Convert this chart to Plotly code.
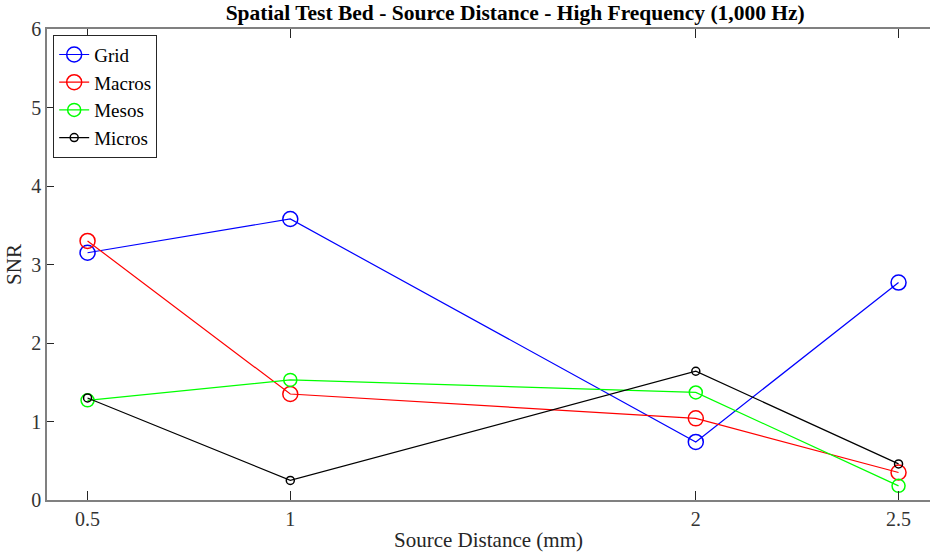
import plotly.graph_objects as go

x_vals = [0.5, 1, 2, 2.5]
grid = [3.15, 3.58, 0.74, 2.77]
macros = [3.30, 1.35, 1.04, 0.35]
mesos = [1.27, 1.53, 1.37, 0.18]
micros = [1.30, 0.25, 1.64, 0.46]

series = [
    ("Grid", grid, "#0000ff", 15),
    ("Macros", macros, "#ff0000", 15),
    ("Mesos", mesos, "#00ff00", 13),
    ("Micros", micros, "#000000", 8),
]

fig = go.Figure()
for name, vals, color, ms in series:
    fig.add_trace(go.Scatter(
        x=x_vals, y=vals, name=name, mode="lines+markers",
        line=dict(color=color, width=1.2),
        marker=dict(symbol="circle-open", size=ms, color=color, line=dict(width=1.5, color=color)),
    ))

font_family = "Liberation Serif"
axis_color = "#808080"
W, H = 930, 555
ml, mt, mb = 47, 29, 55
fig.update_layout(
    width=W, height=H,
    margin=dict(l=ml, r=0, t=mt, b=mb),
    paper_bgcolor="white", plot_bgcolor="white",
    font=dict(family=font_family, size=20, color="#262626"),
    title=dict(text="<b>Spatial Test Bed - Source Distance - High Frequency (1,000 Hz)</b>",
               x=0.554, xanchor="center", y=0.977, yanchor="middle",
               font=dict(size=21.5, color="black", family=font_family)),
    showlegend=True,
    legend=dict(x=0.007, y=0.988, xanchor="left", yanchor="top",
                bgcolor="white", bordercolor="#262626", borderwidth=1,
                font=dict(size=19, color="black", family=font_family),
                tracegroupgap=0, itemwidth=30),
    xaxis=dict(range=[0.4, 0.4 + (W - ml) / 405.5], tickvals=x_vals,
               ticktext=["0.5", "1", "2", "2.5"],
               showgrid=False, zeroline=False, showline=True, linecolor=axis_color,
               linewidth=1.5, mirror="ticks", ticks="inside", ticklen=9, tickcolor="#262626",
               tickfont=dict(size=20, color="#333333"),
               title=dict(text="Source Distance (mm)", font=dict(size=21, color="#262626"), standoff=4)),
    yaxis=dict(range=[0, 6], tickvals=[0, 1, 2, 3, 4, 5, 6],
               showgrid=False, zeroline=False, showline=True, linecolor=axis_color,
               linewidth=1.5, ticks="inside", ticklen=7, tickcolor="#262626",
               tickfont=dict(size=20, color="#333333"),
               title=dict(text="SNR", font=dict(size=21, color="#262626"), standoff=4)),
)

fig.write_html("out.html")
